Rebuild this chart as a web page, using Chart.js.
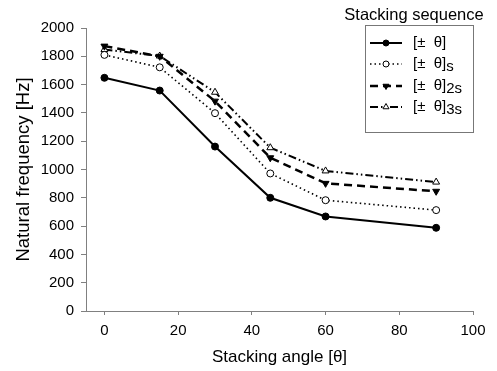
<!DOCTYPE html>
<html><head><meta charset="utf-8">
<script src="https://cdn.jsdelivr.net/npm/chart.js@4"></script>
<style>html,body{margin:0;padding:0;background:#fff}#wrap{width:497px;height:371px}</style>
</head><body><div id="wrap"><canvas id="c" width="497" height="371"></canvas></div>
<script>
const angles = [0, 15, 30, 45, 60, 90];
const s1 = [1648, 1558, 1162, 800, 668, 588];
const s2 = [1810, 1722, 1398, 972, 783, 713];
const s3 = [1872, 1800, 1483, 1083, 902, 846];
const s4 = [1848, 1802, 1546, 1154, 990, 911];
const seriesNames = ['[\u00B1  \u03B8]', '[\u00B1  \u03B8]', '[\u00B1  \u03B8]', '[\u00B1  \u03B8]'];
const seriesSubs = ['', 's', '2s', '3s'];
const xTicks = [0, 20, 40, 60, 80, 100];
const yTicks = [0, 200, 400, 600, 800, 1000, 1200, 1400, 1600, 1800, 2000];

const FONT = 'Liberation Sans, Arial, sans-serif';
const styles = [
  {dash: [], width: 2, point: 'circle', fill: '#000', radius: 3.5, rot: 0},
  {dash: [1.5, 3], width: 1.6, point: 'circle', fill: '#fff', radius: 3.5, rot: 0},
  {dash: [8, 5], width: 2.5, point: 'triangle', fill: '#000', radius: 4, rot: 180},
  {dash: [8, 3, 1.5, 3, 1.5, 3], width: 2, point: 'triangle', fill: '#fff', radius: 4, rot: 0}
];
const vals = [s1, s2, s3, s4];
const datasets = vals.map((v, i) => ({
  label: seriesNames[i] + seriesSubs[i],
  data: angles.map((a, k) => ({x: a, y: v[k]})),
  showLine: true,
  borderColor: '#000',
  borderWidth: styles[i].width,
  borderDash: styles[i].dash,
  pointStyle: styles[i].point,
  pointRotation: styles[i].rot,
  pointRadius: styles[i].radius,
  pointBackgroundColor: styles[i].fill,
  pointBorderColor: '#000',
  pointBorderWidth: 1,
  tension: 0
}));

const legendPlugin = {
  id: 'customLegend',
  afterDraw(chart) {
    const ctx = chart.ctx;
    ctx.save();
    ctx.fillStyle = '#000';
    ctx.font = '16.5px ' + FONT;
    ctx.textAlign = 'center';
    ctx.textBaseline = 'middle';
    ctx.fillText('Stacking sequence', 414, 15);
    ctx.strokeStyle = '#777';
    ctx.lineWidth = 1;
    ctx.setLineDash([]);
    ctx.strokeRect(365.5, 25.5, 108, 107);
    const rowY = [43, 64, 86, 107];
    for (let i = 0; i < 4; i++) {
      const y = rowY[i];
      const st = styles[i];
      ctx.beginPath();
      ctx.setLineDash(st.dash);
      ctx.lineWidth = st.width;
      ctx.strokeStyle = '#000';
      ctx.moveTo(370, y); ctx.lineTo(402, y);
      ctx.stroke();
      ctx.setLineDash([]);
      ctx.fillStyle = st.fill;
      ctx.strokeStyle = '#000';
      ctx.lineWidth = 1;
      Chart.helpers.drawPoint(ctx, {pointStyle: st.point, rotation: st.rot, radius: st.radius - 0.5, borderWidth: 1}, 386, y);
      ctx.fillStyle = '#000';
      ctx.font = '15px ' + FONT;
      ctx.textAlign = 'left';
      ctx.fillText(seriesNames[i], 413, y);
      const w = ctx.measureText(seriesNames[i]).width;
      if (seriesSubs[i]) ctx.fillText(seriesSubs[i], 413 + w, y + 3);
    }
    ctx.restore();
  }
};

new Chart(document.getElementById('c'), {
  type: 'scatter',
  data: {datasets},
  plugins: [legendPlugin],
  options: {
    responsive: false,
    animation: false,
    layout: {padding: {top: 28, right: 24, left: 0, bottom: 0}},
    plugins: {legend: {display: false}, tooltip: {enabled: false}},
    scales: {
      x: {
        type: 'linear', min: -5, max: 100,
        afterBuildTicks: s => { s.ticks = xTicks.map(v => ({value: v})); },
        afterFit: s => { s.height = 60; },
        grid: {display: true, drawOnChartArea: false, drawTicks: true, tickLength: 4, color: '#808080'},
        border: {display: true, color: '#808080', width: 1},
        ticks: {color: '#000', font: {family: FONT, size: 15}, padding: 7, callback: v => String(v)},
        title: {display: true, text: 'Stacking angle [\u03B8]', color: '#000', font: {family: FONT, size: 17}, padding: {top: 4, bottom: 3}}
      },
      y: {
        type: 'linear', min: 0, max: 2000,
        afterBuildTicks: s => { s.ticks = yTicks.map(v => ({value: v})); },
        afterFit: s => { s.width = 86; },
        grid: {display: true, drawOnChartArea: false, drawTicks: true, tickLength: 5, color: '#808080'},
        border: {display: true, color: '#808080', width: 1},
        ticks: {color: '#000', font: {family: FONT, size: 15}, padding: 7, callback: v => String(v)},
        title: {display: true, text: 'Natural frequency [Hz]', color: '#000', font: {family: FONT, size: 18.5}, padding: {top: 13, bottom: 4}}
      }
    }
  }
});
</script></body></html>
